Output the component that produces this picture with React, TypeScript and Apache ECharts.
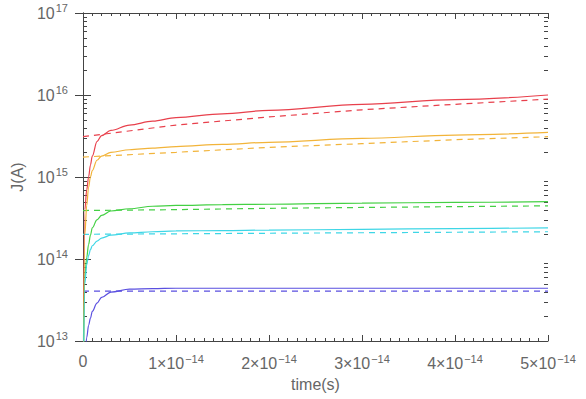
import React, { useEffect, useRef } from "react";
import * as echarts from "echarts";

// time in units of 1e-14 s
const tSolid = [0, 0.02, 0.04, 0.06, 0.08, 0.1, 0.15, 0.2, 0.3, 0.5, 0.75, 1, 1.5, 2, 3, 4, 5];
const redSolid = [1e12, 4e14, 7e14, 1.0e15, 1.4e15, 1.8e15, 2.7e15, 3.2e15, 3.7e15, 4.3e15, 4.8e15, 5.3e15, 5.9e15, 6.5e15, 7.7e15, 8.8e15, 1.0e16];
const orangeSolid = [1e12, 2e14, 4.5e14, 7.5e14, 1.0e15, 1.2e15, 1.6e15, 1.8e15, 2.0e15, 2.15e15, 2.25e15, 2.35e15, 2.5e15, 2.65e15, 2.95e15, 3.25e15, 3.5e15];
const greenSolid = [1e12, 6e13, 1.05e14, 1.5e14, 1.95e14, 2.4e14, 3.0e14, 3.4e14, 3.85e14, 4.1e14, 4.4e14, 4.5e14, 4.6e14, 4.65e14, 4.8e14, 4.9e14, 5.0e14];
const cyanSolid = [1e12, 5e13, 8.5e13, 1.1e14, 1.3e14, 1.45e14, 1.65e14, 1.8e14, 1.95e14, 2.08e14, 2.15e14, 2.2e14, 2.22e14, 2.25e14, 2.3e14, 2.35e14, 2.4e14];
const blueSolid = [1e12, 6e12, 1.1e13, 1.55e13, 1.9e13, 2.3e13, 2.9e13, 3.4e13, 3.95e13, 4.3e13, 4.35e13, 4.4e13, 4.4e13, 4.4e13, 4.4e13, 4.4e13, 4.4e13];

const tDashed = [0, 1, 2, 3, 4, 5];
const redDashed = [3.1e15, 4.3e15, 5.4e15, 6.6e15, 7.7e15, 8.9e15];
const orangeDashed = [1.75e15, 2.0e15, 2.3e15, 2.55e15, 2.85e15, 3.1e15];
const greenDashed = [3.9e14, 4.0e14, 4.15e14, 4.25e14, 4.35e14, 4.45e14];
const cyanDashed = [2.0e14, 2.03e14, 2.06e14, 2.09e14, 2.12e14, 2.15e14];
const blueDashed = [4.05e13, 4.05e13, 4.05e13, 4.05e13, 4.05e13, 4.05e13];

const yDecades = [1e13, 1e14, 1e15, 1e16];
const minorMult = [2, 3, 4, 5, 6, 7, 8, 9];

const colors = {
  red: "#e8404c",
  orange: "#f2b43a",
  green: "#44d044",
  cyan: "#3ed6e6",
  blue: "#5a4fe0",
};

const axisColor = "#444";
const textColor = "#666";
const font = "Liberation Sans, Arial, sans-serif";

function pairs(xs: number[], ys: number[]) {
  return xs.map((x, i) => [x, ys[i]]);
}

export default function App() {
  const ref = useRef<HTMLDivElement>(null);
  useEffect(() => {
    if (!ref.current) return;
    const chart = echarts.init(ref.current, undefined, { renderer: "svg" });
    const minorVals: number[][] = [];
    yDecades.forEach((d) => minorMult.forEach((m) => minorVals.push([0, d * m])));

    const supRich = {
      n: { fontSize: 16, color: textColor, fontFamily: font },
      s: { fontSize: 11, color: textColor, fontFamily: font, padding: [0, 0, 10, 1] },
    };

    const solid = (name: string, ys: number[], color: string) => ({
      type: "line",
      name,
      data: pairs(tSolid, ys),
      showSymbol: false,
      smooth: 0.35,
      smoothMonotone: "x",
      lineStyle: { color, width: 1.2 },
      z: 3,
    });
    const dashed = (name: string, ys: number[], color: string) => ({
      type: "line",
      name,
      data: pairs(tDashed, ys),
      showSymbol: false,
      lineStyle: { color, width: 1.2, type: [6, 5] },
      z: 3,
    });

    chart.setOption({
      animation: false,
      grid: { left: 83, right: 38, top: 13, bottom: 58, containLabel: false },
      xAxis: [
        {
          type: "value",
          min: 0,
          max: 5,
          interval: 1,
          position: "bottom",
          name: "time(s)",
          nameLocation: "middle",
          nameGap: 34,
          nameTextStyle: { fontSize: 16, color: textColor, fontFamily: font },
          axisLine: { show: true, lineStyle: { color: axisColor, width: 1 } },
          axisTick: { show: true, inside: true, length: 6, lineStyle: { color: axisColor } },
          minorTick: { show: true, splitNumber: 10, length: 3, lineStyle: { color: axisColor } },
          splitLine: { show: false },
          axisLabel: {
            margin: 12,
            fontFamily: font,
            color: textColor,
            formatter: (v: number) => (v === 0 ? "{n|0}" : `{n|${v}×10}{s|−14}`),
            rich: supRich,
          },
        },
        {
          type: "value",
          min: 0,
          max: 5,
          interval: 1,
          position: "top",
          axisLine: { show: true, lineStyle: { color: axisColor, width: 1 } },
          axisTick: { show: true, inside: true, length: 6, lineStyle: { color: axisColor } },
          minorTick: { show: true, splitNumber: 10, length: 3, lineStyle: { color: axisColor } },
          splitLine: { show: false },
          axisLabel: { show: false },
        },
      ],
      yAxis: [
        {
          type: "log",
          logBase: 10,
          min: 1e13,
          max: 1e17,
          position: "left",
          name: "J(A)",
          nameLocation: "middle",
          nameGap: 58,
          nameRotate: 90,
          nameTextStyle: { fontSize: 16, color: textColor, fontFamily: font },
          axisLine: { show: true, lineStyle: { color: axisColor, width: 1 } },
          axisTick: { show: true, inside: true, length: 8, lineStyle: { color: axisColor } },
          splitLine: { show: false },
          axisLabel: {
            margin: 15,
            fontFamily: font,
            color: textColor,
            formatter: (v: number) => `{n|10}{s|${Math.round(Math.log10(v))}}`,
            rich: supRich,
          },
        },
        {
          type: "log",
          logBase: 10,
          min: 1e13,
          max: 1e17,
          position: "right",
          axisLine: { show: true, lineStyle: { color: axisColor, width: 1 } },
          axisTick: { show: true, inside: true, length: 8, lineStyle: { color: axisColor } },
          splitLine: { show: false },
          axisLabel: { show: false },
        },
      ],
      series: [
        {
          type: "custom",
          name: "minorY",
          data: minorVals,
          encode: { x: 0, y: 1 },
          clip: false,
          silent: true,
          renderItem: (params: any, api: any) => {
            const cs = params.coordSys;
            const p = api.coord([0, api.value(1)]);
            const y = Math.round(p[1]) + 0.5;
            const left = cs.x;
            const right = cs.x + cs.width;
            return {
              type: "group",
              children: [
                { type: "line", shape: { x1: left, y1: y, x2: left + 4, y2: y }, style: { stroke: axisColor, lineWidth: 1 } },
                { type: "line", shape: { x1: right, y1: y, x2: right - 4, y2: y }, style: { stroke: axisColor, lineWidth: 1 } },
              ],
            };
          },
          z: 2,
        },
        dashed("red model", redDashed, colors.red),
        dashed("orange model", orangeDashed, colors.orange),
        dashed("green model", greenDashed, colors.green),
        dashed("cyan model", cyanDashed, colors.cyan),
        dashed("blue model", blueDashed, colors.blue),
        solid("red", redSolid, colors.red),
        solid("orange", orangeSolid, colors.orange),
        solid("green", greenSolid, colors.green),
        solid("cyan", cyanSolid, colors.cyan),
        solid("blue", blueSolid, colors.blue),
      ],
    });
    return () => chart.dispose();
  }, []);
  return (
    <div
      ref={ref}
      style={{ position: "absolute", left: 0, top: 0, width: 586, height: 399 }}
    />
  );
}
